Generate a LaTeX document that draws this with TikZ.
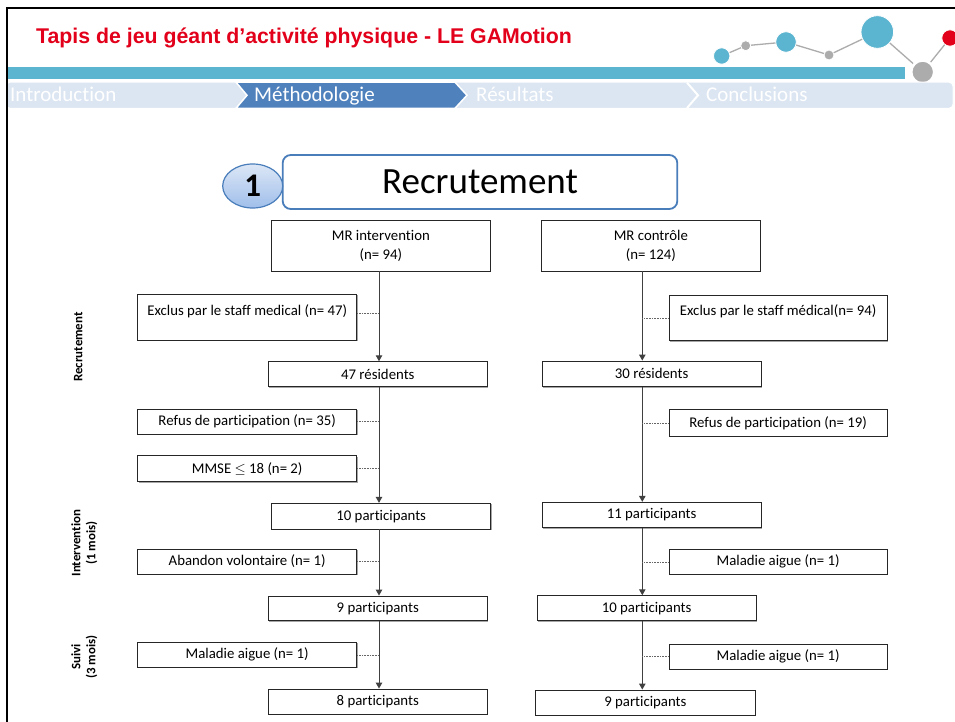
\documentclass[tikz,border=0pt]{standalone}
\usepackage{fontspec}
\setmainfont[Ligatures=NoCommon]{Carlito}
\newfontfamily\titlefont{Liberation Sans}
\usetikzlibrary{arrows.meta,shapes.geometric,shadows}
\definecolor{titlered}{HTML}{E2001A}
\definecolor{barcyan}{HTML}{5BB4D0}
\definecolor{tablight}{HTML}{DCE6F2}
\definecolor{tabdark}{HTML}{4F81BD}
\definecolor{dotgrey}{HTML}{ACACAC}
\definecolor{hdrblue}{HTML}{4A7EBB}
\definecolor{numtop}{HTML}{DCE7F6}
\definecolor{numbot}{HTML}{9FBEEA}
\begin{document}
\begin{tikzpicture}[x=1pt,y=-1pt,
  flowbox/.style={draw=black!85, line width=0.9pt, fill=white, inner sep=0pt,
    font=\fontsize{14.8}{18.3}\selectfont, align=center,
    drop shadow={shadow xshift=1.1pt, shadow yshift=-1.1pt, fill=black!35, opacity=1}},
  boxtext/.style={inner sep=0pt, font=\fontsize{14.8}{18.3}\selectfont},
  sidelabel/.style={rotate=90, font=\bfseries\fontsize{12.9}{15}\selectfont, align=center, inner sep=0pt},
  flowarrow/.style={draw=black!75, line width=1pt, -{Triangle[length=6pt,width=6.5pt]}},
  dotlink/.style={draw=black!60, line width=0.6pt, densely dotted},
  tabtext/.style={font=\fontsize{21}{21}\selectfont, text=white, anchor=base west, inner sep=0pt},
  dotline/.style={draw=dotgrey, line width=1.3pt},
  bubble/.style={draw=white, line width=0.8pt}
]
\useasboundingbox (0,0) rectangle (955,722);
\fill[white] (0,0) rectangle (955,722);

% ---------- header decoration ----------
\fill[barcyan] (6,67) rectangle (905,79.5);
\draw[dotline] (721.7,56) -- (745.7,45.7) -- (786,42) -- (829,55) -- (877.3,32) -- (922.7,72) -- (950,38);
\fill[dotgrey, draw=white, line width=2.5pt] (922.7,72) circle (11.5);
\filldraw[bubble, fill=barcyan] (721.7,56) circle (8.2);
\filldraw[bubble, fill=dotgrey] (745.7,45.7) circle (5);
\filldraw[bubble, fill=barcyan] (786,42) circle (10.3);
\filldraw[bubble, fill=dotgrey] (829,55) circle (5);
\filldraw[bubble, fill=barcyan] (877.3,32) circle (16.3);
\filldraw[bubble, fill=titlered] (950,38) circle (8.2);

\node[anchor=base west, inner sep=0pt, font=\titlefont\bfseries\fontsize{21.3}{22}\selectfont, text=titlered] (title) at (36,43.3) {Tapis de jeu géant d’activité physique - LE GAMotion};

% ---------- tab bar ----------
\fill[tablight, draw=white, line width=1pt, rounded corners=4pt] (6,82.2) rectangle (953,108.3);
\filldraw[fill=tabdark, draw=white, line width=1.5pt] (236,82.2) -- (455,82.2) -- (467,95.3) -- (455,108.3) -- (236,108.3) -- (247,95.3) -- cycle;
\draw[white, line width=2pt] (687,82.7) -- (698,95.3) -- (687,108);
\node[tabtext] (tintro) at (10,101.7) {Introduction};
\node[tabtext] (tmeth) at (254,101.7) {Méthodologie};
\node[tabtext] (tres) at (476,101.7) {Résultats};
\node[tabtext] (tconc) at (706,101.7) {Conclusions};

% ---------- frame ----------
\draw[black, line width=2.5pt] (955,8) -- (7,8) -- (7,722);

% ---------- section header ----------
\node[draw=hdrblue, line width=1.8pt, rounded corners=8pt, fill=white, minimum width=394.6pt, minimum height=54pt, inner sep=0pt, font=\fontsize{37}{37}\selectfont] (hdr) at (480,182) {Recrutement};
\node[ellipse, draw=hdrblue, line width=1.2pt, top color=numtop, bottom color=numbot, minimum width=60pt, minimum height=44pt, inner sep=0pt, font=\bfseries\fontsize{33}{33}\selectfont] (num) at (252.7,186) {1};

% ---------- side labels ----------
\node[sidelabel] (s1) at (78.3,347) {Recrutement};
\node[sidelabel] (s2) at (84.2,543) {Intervention\\(1 mois)};
\node[sidelabel] (s3) at (84.2,657) {Suivi\\(3 mois)};

% ---------- left column ----------
\node[flowbox, minimum width=218.3pt, minimum height=50.3pt] (mri) at (380.85,245.85) {MR intervention\\(n= 94)};
\node[flowbox, minimum width=219pt, minimum height=45.7pt] (exl) at (247.2,317.15) {};
\node[boxtext] (exlt) at (247.2,311.7) {Exclus par le staff medical (n= 47)};
\node[flowbox, minimum width=219pt, minimum height=25pt] (r47) at (377.8,374.2) {47 résidents};
\node[flowbox, minimum width=219pt, minimum height=25pt] (refl) at (247.2,421.5) {Refus de participation (n= 35)};
\node[flowbox, minimum width=219pt, minimum height=26pt] (mmse) at (247.2,468.7) {MMSE $\leq$ 18 (n= 2)};
\node[flowbox, minimum width=219pt, minimum height=25.7pt] (p10l) at (381.2,516.15) {10 participants};
\node[flowbox, minimum width=219pt, minimum height=25pt] (aband) at (247.2,561.5) {Abandon volontaire (n= 1)};
\node[flowbox, minimum width=219pt, minimum height=24.7pt] (p9l) at (377.8,608.35) {9 participants};
\node[flowbox, minimum width=219pt, minimum height=25pt] (mall) at (247.2,654.8) {Maladie aigue (n= 1)};
\node[flowbox, minimum width=219pt, minimum height=25pt] (p8l) at (377.8,701.5) {8 participants};

% ---------- right column ----------
\node[flowbox, minimum width=218.3pt, minimum height=50.3pt] (mrc) at (650.85,245.85) {MR contrôle\\(n= 124)};
\node[flowbox, minimum width=218.3pt, minimum height=45.7pt] (exr) at (778.15,317.85) {};
\node[boxtext] (exrt) at (778.15,311.7) {Exclus par le staff médical(n= 94)};
\node[flowbox, minimum width=218.7pt, minimum height=25.7pt] (r30) at (651.65,373.85) {30 résidents};
\node[flowbox, minimum width=218.3pt, minimum height=26.5pt] (refr) at (778.15,423) {Refus de participation (n= 19)};
\node[flowbox, minimum width=218.7pt, minimum height=25.4pt] (p11r) at (651.65,515) {11 participants};
\node[flowbox, minimum width=218.3pt, minimum height=25pt] (mal1r) at (778.15,561.8) {Maladie aigue (n= 1)};
\node[flowbox, minimum width=218.7pt, minimum height=25pt] (p10r) at (646.65,608.2) {10 participants};
\node[flowbox, minimum width=218.3pt, minimum height=25pt] (mal2r) at (778.15,656.5) {Maladie aigue (n= 1)};
\node[flowbox, minimum width=219.3pt, minimum height=25pt] (p9r) at (645.35,702.5) {9 participants};

% ---------- connectors ----------
\coordinate (LA) at (379,0);
\coordinate (RA) at (642.3,0);
\draw[flowarrow] (mri.south -| LA) -- (r47.north -| LA);
\draw[flowarrow] (r47.south -| LA) -- (p10l.north -| LA);
\draw[flowarrow] (p10l.south -| LA) -- (p9l.north -| LA);
\draw[flowarrow] (p9l.south -| LA) -- (p8l.north -| LA);
\draw[flowarrow] (mrc.south -| RA) -- (r30.north -| RA);
\draw[flowarrow] (r30.south -| RA) -- (p11r.north -| RA);
\draw[flowarrow] (p11r.south -| RA) -- (p10r.north -| RA);
\draw[flowarrow] (p10r.south -| RA) -- (p9r.north -| RA);

\draw[dotlink] ([yshift=4pt]exl.east) -- ([yshift=4pt]exl.east -| LA);
\draw[dotlink] (refl.east) -- (refl.east -| LA);
\draw[dotlink] (mmse.east) -- (mmse.east -| LA);
\draw[dotlink] (aband.east) -- (aband.east -| LA);
\draw[dotlink] (mall.east) -- (mall.east -| LA);
\draw[dotlink] (exr.west) -- (exr.west -| RA);
\draw[dotlink] (refr.west) -- (refr.west -| RA);
\draw[dotlink] (mal1r.west) -- (mal1r.west -| RA);
\draw[dotlink] (mal2r.west) -- (mal2r.west -| RA);
\end{tikzpicture}
\end{document}
